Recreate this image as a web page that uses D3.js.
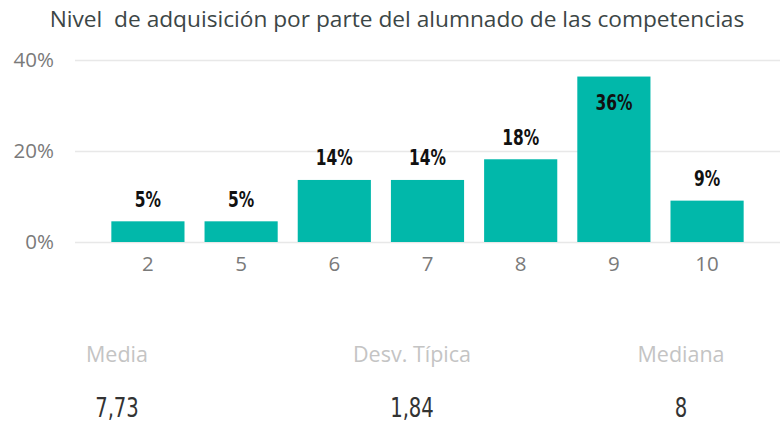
<!DOCTYPE html>
<html>
<head>
<meta charset="utf-8">
<script src="https://cdn.jsdelivr.net/npm/d3@7"></script>
<style>
  html, body { margin: 0; padding: 0; background: #fff; }
  svg { display: block; }
</style>
</head>
<body>
<svg id="chart" width="782" height="425"></svg>
<script>
// Calificaciones obtenidas y número de alumnos en cada una
const notas = ["2", "5", "6", "7", "8", "9", "10"];
const alumnos = [1, 1, 3, 3, 4, 8, 2];
const yTicks = [0, 0.2, 0.4];

// Indicadores resumen mostrados bajo el gráfico
const indicadores = ["Media", "Desv. Típica", "Mediana"];
const valoresIndicadores = ["7,73", "1,84", "8"];

const total = d3.sum(alumnos);
const porcentajes = alumnos.map(n => n / total);

const svg = d3.select("#chart");
const uiFont = "'Open Sans', 'Noto Sans', sans-serif";
const dinFont = "'DejaVu Sans Condensed', 'DejaVu Sans', sans-serif";

// Título
svg.append("text")
  .attr("x", 397).attr("y", 27)
  .attr("text-anchor", "middle")
  .attr("font-family", uiFont)
  .attr("font-size", 22.7)
  .attr("fill", "#3c4646")
  .attr("xml:space", "preserve")
  .text("Nivel  de adquisición por parte del alumnado de las competencias");

const plot = { left: 75, right: 780, top: 60, bottom: 242 };

const x = d3.scaleBand()
  .domain(notas)
  .range([plot.left, plot.right])
  .paddingInner(0.215)
  .paddingOuter(0.39);

const y = d3.scaleLinear()
  .domain([0, 0.4])
  .range([plot.bottom, plot.top]);

// Líneas de cuadrícula y etiquetas del eje Y
const yAxis = d3.axisLeft(y)
  .tickValues(yTicks)
  .tickFormat(d3.format(".0%"))
  .tickSize(-(plot.right - plot.left))
  .tickPadding(21);

const gy = svg.append("g")
  .attr("transform", `translate(${plot.left},0)`)
  .call(yAxis);
gy.select(".domain").remove();
gy.selectAll(".tick line").attr("stroke", "#e8e8e8").attr("stroke-width", 1.5);
gy.selectAll(".tick text")
  .attr("font-family", uiFont)
  .attr("font-size", 20.5)
  .attr("fill", "#7a7a7a");

// Barras
svg.append("g").selectAll("rect")
  .data(porcentajes)
  .join("rect")
  .attr("x", (d, i) => x(notas[i]))
  .attr("width", x.bandwidth())
  .attr("y", d => y(d))
  .attr("height", d => y(0) - y(d))
  .attr("fill", "#01b8aa");

// Etiquetas de datos (dentro de la barra si no caben encima)
const fmt = d3.format(".0%");
svg.append("g").selectAll("text")
  .data(porcentajes)
  .join("text")
  .attr("transform", (d, i) => {
    const cx = x(notas[i]) + x.bandwidth() / 2;
    const top = y(d);
    const by = top - 32 < plot.top ? top + 33 : top - 14.5;
    return `translate(${cx},${by}) scale(0.8,1)`;
  })
  .attr("text-anchor", "middle")
  .attr("font-family", dinFont)
  .attr("font-weight", "bold")
  .attr("font-size", 21.5)
  .attr("fill", "#111")
  .text(d => fmt(d));

// Eje X
const xAxis = d3.axisBottom(x).tickSize(0).tickPadding(14);
const gx = svg.append("g")
  .attr("transform", `translate(0,${plot.bottom})`)
  .call(xAxis);
gx.select(".domain").remove();
gx.selectAll(".tick text")
  .attr("font-family", uiFont)
  .attr("font-size", 20.5)
  .attr("fill", "#7a7a7a");

// Tarjetas de indicadores
const cardX = [117, 412, 681];
const cards = svg.append("g").selectAll("g")
  .data(indicadores)
  .join("g")
  .attr("transform", (d, i) => `translate(${cardX[i]},0)`);

cards.append("text")
  .attr("y", 362)
  .attr("text-anchor", "middle")
  .attr("font-family", uiFont)
  .attr("font-size", 21.5)
  .attr("fill", "#c4c4c4")
  .text(d => d);

cards.append("text")
  .attr("transform", "translate(0,417) scale(0.84,1)")
  .attr("text-anchor", "middle")
  .attr("font-family", dinFont)
  .attr("font-size", 26)
  .attr("fill", "#333")
  .text((d, i) => valoresIndicadores[i]);
</script>
</body>
</html>
